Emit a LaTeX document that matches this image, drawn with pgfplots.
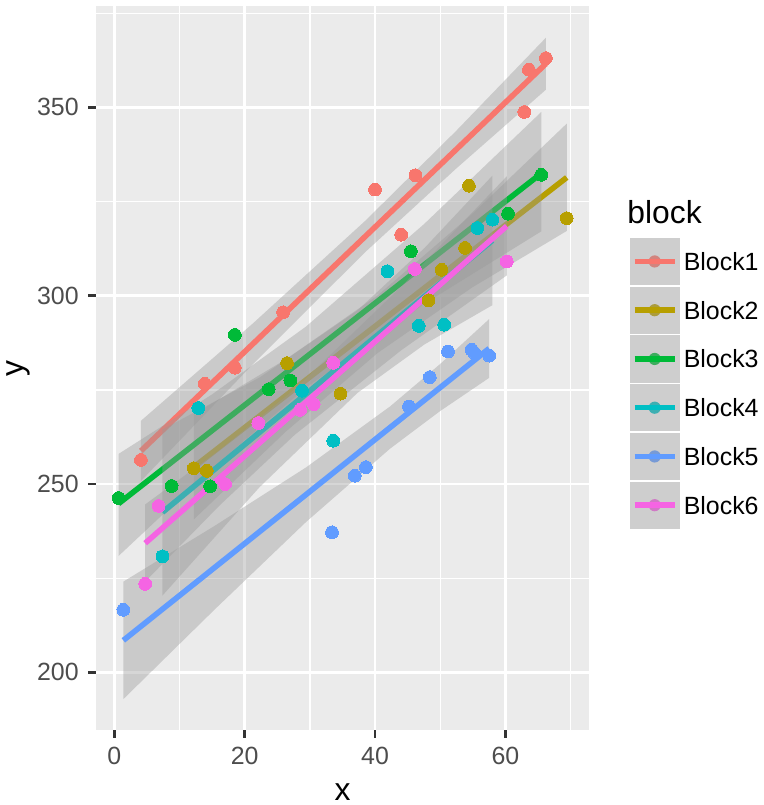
\documentclass[border=0pt]{standalone}
\usepackage{fontspec}
\setmainfont{Liberation Sans}
\usepackage{pgfplots}
\pgfplotsset{compat=1.18}
\definecolor{cA}{HTML}{F8766D}
\definecolor{cB}{HTML}{B79F00}
\definecolor{cC}{HTML}{00BA38}
\definecolor{cD}{HTML}{00BFC4}
\definecolor{cE}{HTML}{619CFF}
\definecolor{cF}{HTML}{F564E3}
\definecolor{panelbg}{HTML}{EBEBEB}
\definecolor{keybg}{HTML}{F2F2F2}
\definecolor{grey30}{HTML}{4D4D4D}
\definecolor{grey20}{HTML}{333333}
\definecolor{grey60}{HTML}{999999}
\pgfplotsset{
  pts/.style={only marks, mark=*, mark size=2.3bp, mark options={line width=0pt}},
  band/.style={fill=grey60, fill opacity=0.4, draw=none, forget plot},
  fit/.style={line width=2bp, mark=none,
    legend image code/.code={
      \path[fill=keybg, draw=none] (0bp,-8.5bp) rectangle (18bp,8.5bp);
      \path[fill, draw=none] (9bp,0bp) circle[radius=2.2bp];
      \path[fill=grey60, fill opacity=0.4, draw=none] (0bp,-8.5bp) rectangle (18bp,8.5bp);
      \draw[line width=2bp] (1.8bp,0bp) -- (16.2bp,0bp);
      \path (0bp,-8.7bp) (18.5bp,8.7bp);
    }},
}
\begin{document}
\begin{tikzpicture}
\path[use as bounding box] (-34.6bp,-27bp) rectangle (240.1bp,262.8bp);
\begin{axis}[
  at={(0,0)}, anchor=south west,
  width=177.5bp, height=260.6bp, scale only axis,
  xmin=-2.78, xmax=72.84, ymin=184.7, ymax=376.9,
  clip=false,
  axis background/.style={fill=panelbg},
  axis line style={draw=none},
  xtick={0,20,40,60}, ytick={200,250,300,350},
  minor xtick={10,30,50,70}, minor ytick={225,275,325,375},
  grid=both,
  major grid style={white, line width=1bp},
  minor grid style={white, line width=0.5bp},
  tick align=outside, tick pos=left,
  major tick length=2.75bp, minor tick length=0pt,
  tick style={grey20, line width=1bp},
  tick label style={font=\fontsize{9}{10}\selectfont, text=grey30},
  /pgf/number format/assume math mode=true,
  xlabel={x}, ylabel={y},
  label style={font=\fontsize{11.5}{13}\selectfont},
  xlabel style={at={(axis description cs:0.5,-0.0856)}, anchor=center},
  ylabel style={at={(axis description cs:-0.1577,0.5)}, anchor=center, rotate=0},
  legend style={at={(rel axis cs:1.0765,0.6845)}, anchor=north west, draw=none, fill=none,
    inner sep=0pt, outer sep=0pt, row sep=-1.85bp,
    nodes={inner sep=0pt, outer sep=0pt, text depth=0pt},
    font=\fontsize{9}{10}\selectfont},
  legend cell align=left,
]
% points
\addplot[pts, color=cA, forget plot] coordinates {(4.1,256.4)(13.9,276.6)(18.5,280.9)(25.9,295.6)(40.0,328.2)(44.0,316.2)(46.2,332.0)(62.9,348.8)(63.6,360.0)(66.2,363.1)};
\addplot[pts, color=cB, forget plot] coordinates {(12.2,254.2)(14.2,253.5)(26.5,282.1)(34.7,274.0)(48.2,298.8)(50.2,306.9)(53.8,312.7)(54.4,329.2)(69.4,320.6)};
\addplot[pts, color=cC, forget plot] coordinates {(0.66,246.3)(8.8,249.5)(14.7,249.4)(18.5,289.6)(23.7,275.2)(27.0,277.5)(45.5,311.8)(60.4,321.8)(65.5,332.1)};
\addplot[pts, color=cD, forget plot] coordinates {(7.4,230.8)(12.9,270.2)(28.8,274.8)(33.6,261.5)(41.9,306.5)(46.7,292.0)(50.6,292.3)(55.7,318.0)(58.0,320.2)};
\addplot[pts, color=cE, forget plot] coordinates {(1.4,216.6)(33.4,237.2)(36.9,252.2)(38.6,254.5)(45.2,270.6)(48.4,278.4)(51.2,285.2)(54.8,285.7)(55.2,284.9)(57.5,284.1)};
\addplot[pts, color=cF, forget plot] coordinates {(4.75,223.5)(6.8,244.2)(17.0,250.0)(22.1,266.2)(28.5,269.7)(30.6,271.2)(33.6,282.2)(46.1,307.1)(60.2,309.1)};
% Block1
\addplot[band] coordinates {(4.1,266.8)(21.3,292.7)(38.5,319.9)(52.4,343.7)(66.2,368.5)(66.2,354.7)(52.4,333.7)(38.5,311.6)(21.3,281.9)(4.1,250.8)} -- cycle;
\addplot[fit, color=cA] coordinates {(4.1,258.8)(66.2,361.6)};
\addlegendentry{Block1}
% Block2
\addplot[band] coordinates {(12.2,268.5)(26.3,283.1)(40.4,300.1)(54.9,321.7)(69.4,345.7)(69.4,317.2)(54.9,302.2)(40.4,284.8)(26.3,263.9)(12.2,240.6)} -- cycle;
\addplot[fit, color=cB] coordinates {(12.2,254.5)(69.4,331.4)};
\addlegendentry{Block2}
% Block3
\addplot[band] coordinates {(0.66,258.0)(15.0,273.8)(29.4,291.8)(47.5,319.0)(65.5,348.8)(65.5,317.1)(47.5,297.8)(29.4,275.6)(15.0,254.2)(0.66,230.9)} -- cycle;
\addplot[fit, color=cC] coordinates {(0.66,244.8)(65.5,332.5)};
\addlegendentry{Block3}
% Block4
\addplot[band] coordinates {(7.4,264.5)(22.3,278.3)(37.3,296.1)(47.6,312.7)(58.0,331.9)(58.0,297.5)(47.6,287.1)(37.3,274.2)(22.3,249.2)(7.4,220.4)} -- cycle;
\addplot[fit, color=cD] coordinates {(7.4,242.5)(58.0,314.7)};
\addlegendentry{Block4}
% Block5
\addplot[band] coordinates {(1.4,224.1)(15.4,238.9)(29.4,254.4)(42.3,270.6)(50.0,281.9)(57.5,293.8)(57.5,278.2)(50.0,269.4)(42.3,259.4)(29.4,239.9)(15.4,216.7)(1.4,192.9)} -- cycle;
\addplot[fit, color=cE] coordinates {(1.4,208.5)(57.5,286.0)};
\addlegendentry{Block5}
% Block6
\addplot[band] coordinates {(4.75,244.6)(16.2,259.1)(27.7,275.2)(44.0,302.4)(60.2,331.7)(60.2,305.4)(44.0,285.5)(27.7,263.1)(16.2,244.4)(4.75,224.1)} -- cycle;
\addplot[fit, color=cF] coordinates {(4.75,234.3)(60.2,318.5)};
\addlegendentry{Block6}
\node[anchor=base west, inner sep=0pt, font=\fontsize{11.5}{13}\selectfont] at (rel axis cs:1.0765,0.700) {block};
\end{axis}
\end{tikzpicture}
\end{document}
